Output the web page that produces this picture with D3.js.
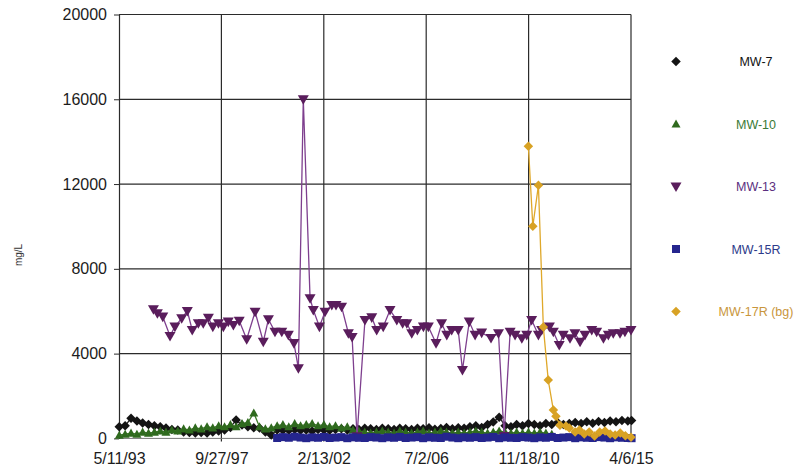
<!DOCTYPE html>
<html>
<head>
<meta charset="utf-8">
<script src="https://cdn.jsdelivr.net/npm/d3@7"></script>
<style>
  body { margin: 0; background: #fff; }
  svg { display: block; }
  text { font-family: "Liberation Sans", Arial, sans-serif; }
</style>
</head>
<body>
<svg id="chart" width="799" height="474"></svg>
<script>
// ---- data -------------------------------------------------------------
const xTickLabels = ["5/11/93", "9/27/97", "2/13/02", "7/2/06", "11/18/10", "4/6/15"];
const yTicks = [0, 4000, 8000, 12000, 16000, 20000];

const seriesNames = ["MW-7", "MW-10", "MW-13", "MW-15R", "MW-17R (bg)"];

// quarterly sampling rounds shared by MW-7, MW-10 and MW-15R
const sampleDates = [
  "1993-05", "1993-08", "1993-11",
  "1994-02", "1994-05", "1994-08", "1994-11",
  "1995-02", "1995-05", "1995-08", "1995-11",
  "1996-02", "1996-05", "1996-08", "1996-11",
  "1997-02", "1997-05", "1997-08", "1997-11",
  "1998-02", "1998-05", "1998-08", "1998-11",
  "1999-02", "1999-05", "1999-08", "1999-11",
  "2000-02", "2000-05", "2000-08", "2000-11",
  "2001-02", "2001-05", "2001-08", "2001-11",
  "2002-02", "2002-05", "2002-08", "2002-11",
  "2003-02", "2003-05", "2003-08", "2003-11",
  "2004-02", "2004-05", "2004-08", "2004-11",
  "2005-02", "2005-05", "2005-08", "2005-11",
  "2006-02", "2006-05", "2006-08", "2006-11",
  "2007-02", "2007-05", "2007-08", "2007-11",
  "2008-02", "2008-05", "2008-08", "2008-11",
  "2009-02", "2009-05", "2009-08", "2009-11",
  "2010-02", "2010-05", "2010-08", "2010-11",
  "2011-02", "2011-05", "2011-08", "2011-11",
  "2012-02", "2012-05", "2012-08", "2012-11",
  "2013-02", "2013-05", "2013-08", "2013-11",
  "2014-02", "2014-05", "2014-08", "2014-11",
  "2015-02", "2015-04"
];

const mw7 = [
  550, 600, 950,
  820, 730, 650, 600,
  550, 490, 420, 400,
  300, 280, 260, 280,
  260, 300, 350, 400,
  520, 870, 630, 550,
  500, 490, 300, 160,
  400, 380, 380, 420,
  380, 400, 350, 420,
  400, 380, 420, 450,
  400, 450, 420, 480,
  450, 420, 480, 450,
  420, 480, 450, 420,
  480, 450, 500, 430,
  470, 520, 450, 500,
  480, 550, 600, 520,
  650, 770, 1000, 600,
  550, 650, 600, 700,
  650, 600, 700, 650,
  750, 650, 700, 750,
  700, 780, 720, 800,
  750, 820, 780, 850,
  820, 850
];

const mw10 = [
  150, 200, 250,
  200, 300, 250, 300,
  350, 300, 400, 350,
  450, 400, 500, 450,
  550, 500, 600, 550,
  650, 550, 700, 750,
  1200, 550, 450, 500,
  600, 650, 550, 700,
  600, 650, 700, 600,
  650, 550, 600, 500,
  550, 400, 350, 300,
  250, 300, 350, 300,
  250, 350, 300, 250,
  300, 350, 250, 300,
  350, 300, 250, 300,
  250, 300, 350, 300,
  250, 300, 350, 300,
  250, 300, 250, 300,
  250, 300, 250, 200,
  null, null, null, null,
  null, null, null, null,
  null, null, null, null,
  null, null
];

const mw15r = [
  null, null, null,
  null, null, null, null,
  null, null, null, null,
  null, null, null, null,
  null, null, null, null,
  null, null, null, null,
  null, null, null, null,
  20, 60, 30, 80,
  40, 10, 50, 30,
  70, 20, 40, 60,
  10, 50, 30, 20,
  60, 40, 10, 50,
  30, 70, 20, 40,
  60, 10, 50, 30,
  20, 80, 40, 10,
  50, 30, 60, 20,
  40, 70, 10, 50,
  30, 20, 60, 40,
  10, 50, 30, 70,
  20, 40, 60, 10,
  50, 30, 20, 60,
  40, 10, 50, 30,
  20, 10
];

// MW-13 sampling (decimal years) and concentrations
const mw13Dates = [
  1994.83, 1995.00, 1995.23, 1995.54, 1995.75, 1996.04, 1996.28, 1996.49,
  1996.75, 1996.96, 1997.18, 1997.37, 1997.61, 1997.82, 1998.03, 1998.25,
  1998.50, 1998.82, 1999.18, 1999.53, 1999.75, 2000.03, 2000.32, 2000.60,
  2000.84, 2001.03, 2001.24, 2001.53, 2001.67, 2001.93, 2002.17, 2002.46,
  2002.64, 2002.88, 2003.17, 2003.33, 2003.54, 2003.88, 2004.17, 2004.38,
  2004.66, 2004.95, 2005.24, 2005.49, 2005.67, 2005.88, 2006.12, 2006.38,
  2006.59, 2006.92, 2007.16, 2007.38, 2007.59, 2007.87, 2008.05, 2008.34,
  2008.59, 2008.87, 2009.27, 2009.59, 2009.83, 2010.09, 2010.30, 2010.59,
  2010.80, 2011.01, 2011.30, 2011.44, 2011.77, 2011.94, 2012.19, 2012.36,
  2012.65, 2012.86, 2013.08, 2013.29, 2013.58, 2013.79, 2014.08, 2014.29,
  2014.50, 2014.79, 2015.00, 2015.26
];
const mw13 = [
  6090, 5900, 5740, 4830, 5270, 5665, 6010, 5110,
  5430, 5430, 5690, 5270, 5430, 5270, 5505, 5350,
  5550, 4675, 5975, 4560, 5620, 5030, 5030, 4880,
  4490, 3305, 16000, 6610, 6055, 5270, 5975, 6290,
  6290, 6210, 4960, 4780, 90, 5585, 5710, 5110,
  5270, 6055, 5585, 5430, 5430, 4960, 5110, 5270,
  5270, 4490, 5430, 4880, 5110, 5110, 3225, 5505,
  4880, 4985, 4735, 4960, 110, 5030, 4880, 4720,
  4880, 5585, 4880, 5110, 5270, 5030, 4405, 4880,
  4720, 4960, 4560, 4880, 5110, 5030, 4720, 4880,
  4960, 4960, 5030, 5110
];

// MW-17R (background well)
const mw17rDates = [
  2010.87, 2011.06, 2011.30, 2011.51, 2011.72, 2011.94, 2012.05, 2012.22,
  2012.48, 2012.62, 2012.87, 2013.05, 2013.26, 2013.47, 2013.70, 2013.92,
  2014.15, 2014.37, 2014.58, 2014.80, 2015.02, 2015.26
];
const mw17r = [
  13780, 10010, 11940, 5260, 2750, 1340, 1050, 620,
  585, 490, 300, 400, 210, 300, 110, 300,
  350, 210, 160, 250, 120, 60
];

// ---- helpers ----------------------------------------------------------
const parseTick = d3.timeParse("%m/%d/%y");
const parseMonth = d3.timeParse("%Y-%m");
function fromDecimalYear(y) {
  const yr = Math.floor(y);
  const a = new Date(yr, 0, 1), b = new Date(yr + 1, 0, 1);
  return new Date(+a + (y - yr) * (b - a));
}
const sampleTimes = sampleDates.map(s => {
  const d = parseMonth(s); d.setDate(15); return d;
});

const series = [
  { name: seriesNames[0], color: "#141414", line: "#222", text: "#111",
    shape: "diamond", size: 9.5,
    pts: sampleTimes.map((d, i) => ({ d, v: mw7[i] })).filter(p => p.v != null) },
  { name: seriesNames[1], color: "#2f6a1e", line: "#3d7a28", text: "#3a7a36",
    shape: "triangleUp", size: 9,
    pts: sampleTimes.map((d, i) => ({ d, v: mw10[i] })).filter(p => p.v != null) },
  { name: seriesNames[2], color: "#5a1d5c", line: "#7e3f8e", text: "#5b2f80",
    shape: "triangleDown", size: 11,
    pts: mw13Dates.map((y, i) => ({ d: fromDecimalYear(y), v: mw13[i] })) },
  { name: seriesNames[3], color: "#25258e", line: "#2e2e96", text: "#2c3a8a",
    shape: "square", size: 8,
    pts: sampleTimes.map((d, i) => ({ d, v: mw15r[i] })).filter(p => p.v != null) },
  { name: seriesNames[4], color: "#d8a224", line: "#dfa82a", text: "#c9963c",
    shape: "diamond", size: 9.5,
    pts: mw17rDates.map((y, i) => ({ d: fromDecimalYear(y), v: mw17r[i] })) }
];

function markerPath(shape, s) {
  const h = s / 2;
  switch (shape) {
    case "diamond": return `M0,${-h}L${h},0L0,${h}L${-h},0Z`;
    case "triangleUp": return `M0,${-h}L${h},${h * 0.8}L${-h},${h * 0.8}Z`;
    case "triangleDown": return `M0,${h}L${h},${-h * 0.75}L${-h},${-h * 0.75}Z`;
    default: return `M${-h},${-h}H${h}V${h}H${-h}Z`;
  }
}

// ---- layout -----------------------------------------------------------
const svg = d3.select("#chart");
const plot = { left: 119, right: 631, top: 14.5, bottom: 438.4 };

const xTickDates = xTickLabels.map(parseTick);
const x = d3.scaleTime()
  .domain([xTickDates[0], xTickDates[xTickDates.length - 1]])
  .range([plot.left, plot.right]);
const y = d3.scaleLinear().domain([0, 20000]).range([plot.bottom, plot.top]);

// gridlines
const grid = svg.append("g");
grid.selectAll("line.h").data(yTicks.filter(t => t > 0)).join("line")
  .attr("x1", plot.left).attr("x2", plot.right)
  .attr("y1", d => y(d)).attr("y2", d => y(d))
  .attr("stroke", "#2b2b2b").attr("stroke-width", 1.2);
grid.selectAll("line.v").data(xTickDates.slice(1)).join("line")
  .attr("x1", d => x(d)).attr("x2", d => x(d))
  .attr("y1", plot.top).attr("y2", plot.bottom + 3)
  .attr("stroke", "#2b2b2b").attr("stroke-width", 1.2);
// baseline
svg.append("line")
  .attr("x1", plot.left).attr("x2", plot.right)
  .attr("y1", y(0)).attr("y2", y(0))
  .attr("stroke", "#777").attr("stroke-width", 1);

// y axis
const yAxis = svg.append("g")
  .attr("transform", `translate(${plot.left},0)`)
  .call(d3.axisLeft(y).tickValues(yTicks).tickSize(5).tickSizeOuter(0).tickPadding(7)
    .tickFormat(d3.format("d")));
yAxis.select(".domain").attr("stroke", "#2b2b2b").attr("stroke-width", 1.2);
yAxis.selectAll(".tick line").attr("stroke", "#2b2b2b");
yAxis.selectAll("text").attr("font-size", 16).attr("fill", "#1c1c1c")
  .attr("font-family", "'Liberation Sans', Arial, sans-serif");

// x axis labels
const xAxis = svg.append("g")
  .attr("transform", `translate(0,${plot.bottom})`)
  .call(d3.axisBottom(x).tickValues(xTickDates).tickSize(0).tickPadding(14)
    .tickFormat((d, i) => xTickLabels[i]));
xAxis.select(".domain").remove();
xAxis.selectAll("text").attr("font-size", 16).attr("fill", "#1c1c1c")
  .attr("font-family", "'Liberation Sans', Arial, sans-serif");

// y title
svg.append("text")
  .attr("transform", "translate(22,255) rotate(-90)")
  .attr("text-anchor", "middle")
  .attr("font-size", 10).attr("fill", "#333")
  .text("mg/L");

// ---- series -----------------------------------------------------------
const line = d3.line().x(p => x(p.d)).y(p => y(p.v));
series.forEach(s => {
  const g = svg.append("g");
  g.append("path").datum(s.pts)
    .attr("d", line)
    .attr("fill", "none")
    .attr("stroke", s.line)
    .attr("stroke-width", 1.3);
  g.selectAll("path.m").data(s.pts).join("path")
    .attr("class", "m")
    .attr("transform", p => `translate(${x(p.d)},${y(p.v)})`)
    .attr("d", markerPath(s.shape, s.size))
    .attr("fill", s.color);
});

// ---- legend -----------------------------------------------------------
const legend = svg.append("g");
series.forEach((s, i) => {
  const ly = 61.5 + i * 62.5;
  legend.append("path")
    .attr("transform", `translate(676,${ly})`)
    .attr("d", markerPath(s.shape, s.size))
    .attr("fill", s.color);
  legend.append("text")
    .attr("x", 756).attr("y", ly + 4.5)
    .attr("text-anchor", "middle")
    .attr("font-size", 12.5)
    .attr("fill", s.text)
    .text(s.name);
});
</script>
</body>
</html>
